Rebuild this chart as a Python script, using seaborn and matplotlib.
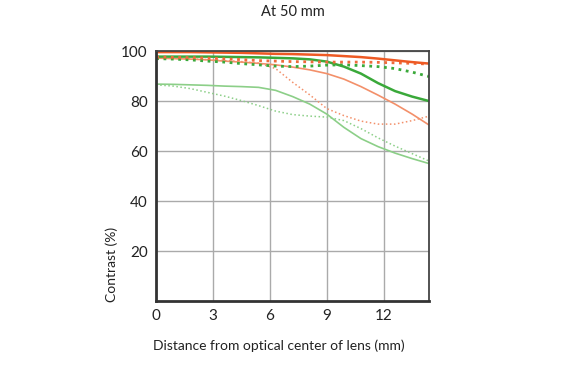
import numpy as np
import pandas as pd
import seaborn as sns
import matplotlib.pyplot as plt

# Distance from optical center (mm) at which curves were read
distance = [0, 0.9, 1.8, 2.7, 3.6, 4.5, 5.4, 6.3, 7.2, 8.1, 9.0, 9.9, 10.8, 11.7, 12.6, 13.5, 14.4]

# Red = max aperture, green = f/8; thick = 10 lp/mm, thin = 30 lp/mm; solid = sagittal, dotted = meridional
red_10_sag = [99.6, 99.6, 99.6, 99.5, 99.4, 99.3, 99.1, 98.9, 98.8, 98.6, 98.4, 98.0, 97.6, 97.0, 96.3, 95.6, 95.0]
red_10_mer = [97.6, 97.5, 97.4, 97.2, 96.9, 96.6, 96.2, 96.0, 95.8, 95.7, 95.6, 95.6, 95.6, 95.5, 95.3, 95.1, 94.8]
green_10_sag = [97.8, 97.8, 97.8, 97.8, 97.7, 97.6, 97.5, 97.3, 97.1, 96.7, 95.8, 93.8, 91.0, 87.2, 84.0, 81.8, 80.0]
green_10_mer = [97.0, 96.8, 96.5, 96.0, 95.6, 95.0, 94.5, 94.0, 93.8, 94.0, 94.4, 94.5, 94.2, 93.8, 93.0, 91.6, 89.8]
red_30_sag = [97.2, 97.0, 96.8, 96.5, 96.0, 95.6, 95.1, 94.5, 93.6, 92.5, 91.0, 88.8, 85.8, 82.4, 78.8, 74.8, 70.4]
red_30_mer = [97.2, 97.1, 96.9, 96.6, 96.2, 95.8, 95.2, 93.0, 87.5, 82.5, 77.0, 74.2, 72.0, 70.8, 70.8, 72.2, 74.0]
green_30_sag = [86.8, 86.7, 86.5, 86.3, 86.0, 85.8, 85.5, 84.3, 81.8, 78.8, 74.8, 69.5, 65.0, 61.8, 59.2, 57.0, 55.0]
green_30_mer = [86.5, 86.0, 85.0, 83.5, 82.0, 80.2, 78.2, 76.0, 74.6, 74.0, 73.6, 72.2, 69.0, 65.3, 62.0, 59.0, 56.0]

x_ticks = [0, 3, 6, 9, 12]
y_ticks = [20, 40, 60, 80, 100]

sns.set_style("white")
plt.rcParams['font.family'] = ['Lato', 'DejaVu Sans']

fig = plt.figure(figsize=(5.7, 3.65), dpi=100)
ax = fig.add_axes([0.274, 0.175, 0.479, 0.685])

# (values, colour, line width, line style)
series = [
    (green_30_mer, '#8ccf88', 1.1, ':'),
    (green_30_sag, '#8ccf88', 1.2, '-'),
    (red_30_mer, '#f3906a', 1.1, ':'),
    (red_30_sag, '#f3906a', 1.2, '-'),
    (green_10_mer, '#3aa93a', 2.0, ':'),
    (green_10_sag, '#3aa93a', 1.8, '-'),
    (red_10_mer, '#ef6a3a', 2.0, ':'),
    (red_10_sag, '#ee5a24', 1.8, '-'),
]

for values, colour, lw, style in series:
    sns.lineplot(x=distance, y=values, ax=ax, color=colour, linewidth=lw, linestyle=style)

ax.set_xlim(0, 14.4)
ax.set_ylim(0, 100)
ax.set_xticks(x_ticks)
ax.set_yticks(y_ticks)
ax.grid(True, color='#aaaaaa', linewidth=1)
ax.set_axisbelow(True)
ax.tick_params(length=0, labelsize=11, colors='#222222')
ax.tick_params(axis='x', pad=6)
ax.tick_params(axis='y', pad=6)

for side in ['top', 'right']:
    ax.spines[side].set_color('#444444')
    ax.spines[side].set_linewidth(1.3)
for side in ['left', 'bottom']:
    ax.spines[side].set_color('#333333')
    ax.spines[side].set_linewidth(2)

ax.set_xlabel('Distance from optical center of lens (mm)', fontsize=10, color='#222222')
ax.set_ylabel('Contrast (%)', fontsize=10, color='#222222')
ax.xaxis.set_label_coords(0.45, -0.155)
ax.yaxis.set_label_coords(-0.14, 0.148)

ax.text(0.5, 1.156, 'At 50 mm', transform=ax.transAxes, ha='center', va='center',
        fontsize=10.5, color='#222222')

fig.savefig('out.png', dpi=100)
